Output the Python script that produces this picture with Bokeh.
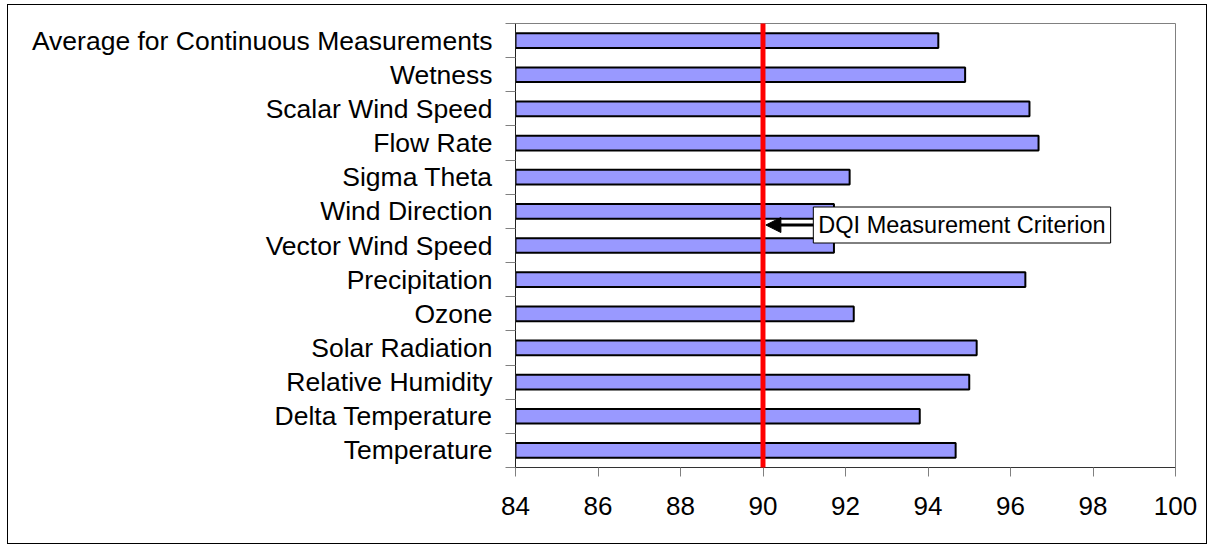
from bokeh.plotting import figure
from bokeh.models import (Range1d, FixedTicker, LinearAxis, Label, Arrow, NormalHead, BoxAnnotation)
from bokeh.embed import file_html
from bokeh.resources import INLINE

# Data (bottom to top)
categories = ["Temperature", "Delta Temperature", "Relative Humidity", "Solar Radiation",
              "Ozone", "Precipitation", "Vector Wind Speed", "Wind Direction",
              "Sigma Theta", "Flow Rate", "Scalar Wind Speed", "Wetness",
              "Average for Continuous Measurements"]
values = [94.67, 93.8, 95.0, 95.18, 92.2, 96.36, 91.72, 91.72, 92.1, 96.68, 96.46, 94.9, 94.25]
x_ticks = [84, 86, 88, 90, 92, 94, 96, 98, 100]
criterion = 90
criterion_label = "DQI Measurement Criterion"

n = len(categories)
ypos = [i + 0.5 for i in range(n)]
FONT = "Liberation Sans"

p = figure(width=1200, height=540, output_backend="svg", toolbar_location=None,
           x_range=Range1d(x_ticks[0], x_ticks[-1]), y_range=Range1d(0, n),
           x_axis_type=None, y_axis_type=None,
           min_border_left=507, min_border_right=33, min_border_top=18, min_border_bottom=78,
           styles={"border": "1px solid black", "margin-left": "7px", "margin-top": "4px"})
p.background_fill_color = "white"
p.border_fill_color = "white"
p.outline_line_color = "#808080"
p.outline_line_width = 1

xaxis = LinearAxis(ticker=FixedTicker(ticks=x_ticks))
xaxis.axis_line_color = "#333333"
xaxis.major_tick_line_color = "#808080"
xaxis.major_tick_out = 9
xaxis.major_tick_in = 0
xaxis.minor_tick_line_color = None
xaxis.major_label_text_font = FONT
xaxis.major_label_text_font_size = "26px"
xaxis.major_label_text_color = "black"
xaxis.major_label_standoff = 20
p.add_layout(xaxis, "below")

yaxis = LinearAxis(ticker=FixedTicker(ticks=ypos, minor_ticks=list(range(n + 1))))
yaxis.major_label_overrides = {y: c for y, c in zip(ypos, categories)}
yaxis.axis_line_color = "#222222"
yaxis.major_tick_line_color = None
yaxis.major_tick_out = 0
yaxis.major_tick_in = 0
yaxis.minor_tick_line_color = "#808080"
yaxis.minor_tick_out = 10
yaxis.minor_tick_in = 0
yaxis.major_label_text_font = FONT
yaxis.major_label_text_font_size = "26.5px"
yaxis.major_label_text_color = "black"
yaxis.major_label_standoff = 13
p.add_layout(yaxis, "left")

p.xgrid.ticker = FixedTicker(ticks=x_ticks)
p.xgrid.grid_line_color = "#222222"
p.xgrid.grid_line_width = 1
p.ygrid.visible = False

p.hbar(y=ypos, left=x_ticks[0], right=values, height=0.43,
       fill_color="#9999FF", line_color="black", line_width=2)

# red criterion line
p.add_layout(BoxAnnotation(left=criterion - 0.06, right=criterion + 0.06,
                           bottom=-0.5, top=n + 0.24,
                           fill_color="#FF0000", fill_alpha=1.0, line_color=None,
                           level="annotation"))

# annotation arrow + label
p.add_layout(Arrow(x_start=criterion + 1.25, y_start=7.1, x_end=criterion + 0.07, y_end=7.1,
                   line_color="black", line_width=3,
                   end=NormalHead(size=15, fill_color="black", line_color="black")))
p.add_layout(Label(x=criterion + 1.22, y=7.1, text=criterion_label,
                   text_font=FONT, text_font_size="23.5px", text_baseline="middle",
                   text_align="left", text_color="black",
                   background_fill_color="white", border_line_color="black",
                   border_line_width=1, padding=5))

open("out.html", "w").write(file_html(p, INLINE))
